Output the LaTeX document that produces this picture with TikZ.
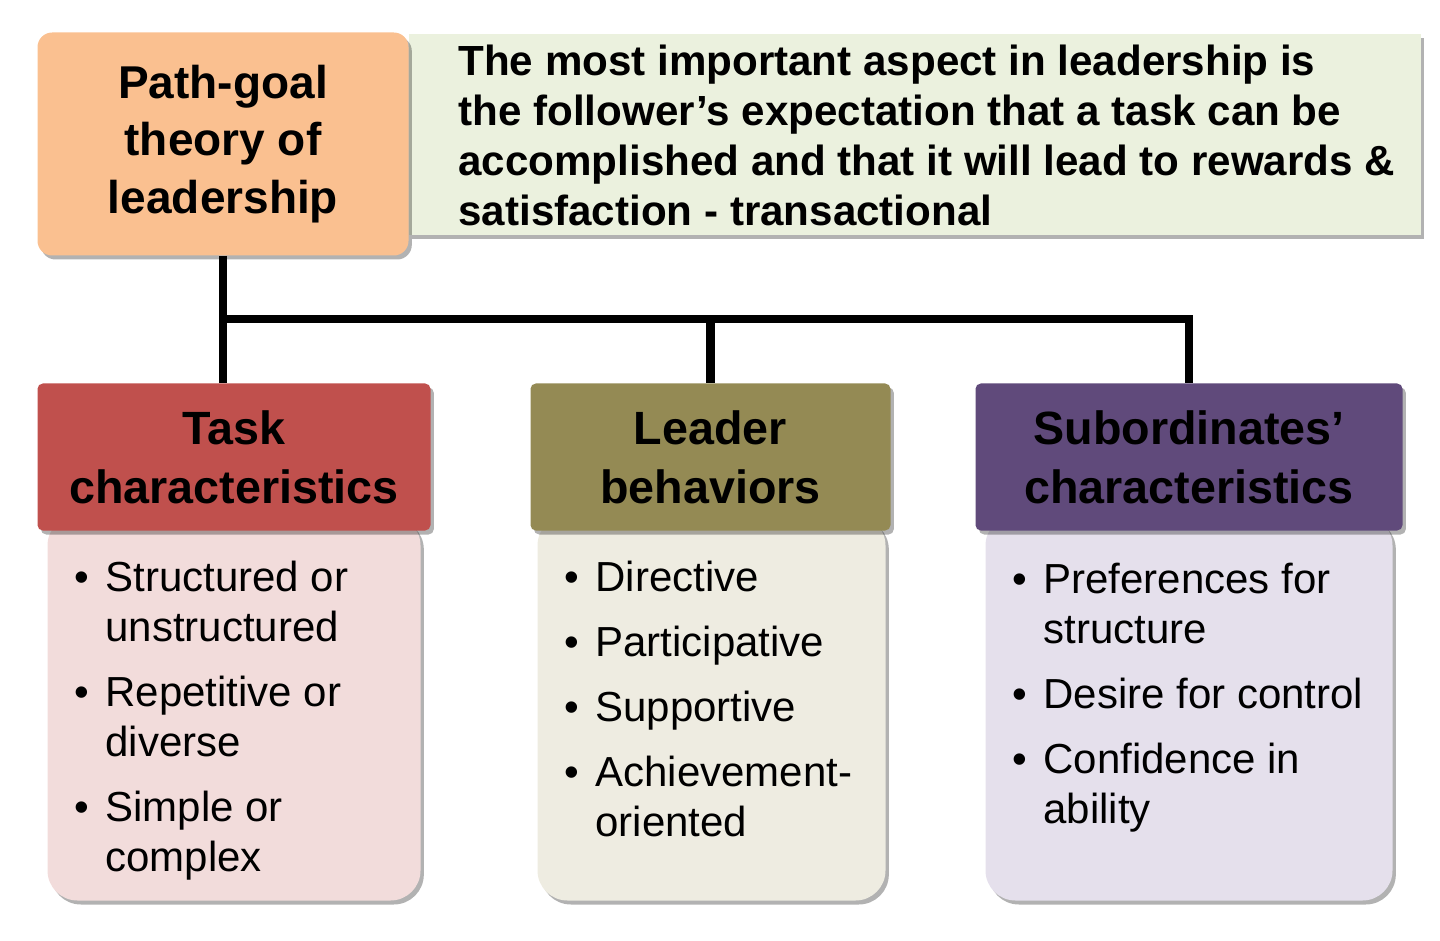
\documentclass[tikz,border=0pt]{standalone}
\usepackage{fontspec}
\setmainfont{Liberation Sans}
\usetikzlibrary{shadows}

\definecolor{pgorange}{HTML}{FAC090}
\definecolor{notegreen}{HTML}{EBF1DE}
\definecolor{taskhead}{HTML}{C0504D}
\definecolor{taskbody}{HTML}{F2DCDB}
\definecolor{leadhead}{HTML}{948A54}
\definecolor{leadbody}{HTML}{EEECE1}
\definecolor{subhead}{HTML}{604A7B}
\definecolor{subbody}{HTML}{E5E0EC}

\newcommand{\bl}{\makebox[23.25pt][l]{\textbullet}}
\newcommand{\ind}{\hspace*{23.25pt}}

\tikzset{every picture/.style={line width=0.75pt}}
\tikzset{
  boxshadow/.style={drop shadow={shadow xshift=2.5pt,shadow yshift=-3pt,opacity=0.3,fill=black}},
  headbox/.style={anchor=north west,rounded corners=4pt,minimum height=110.25pt,inner sep=0pt,align=center,font=\bfseries\fontsize{35}{44}\selectfont,boxshadow},
  bodybox/.style={anchor=north west,rounded corners=22.5pt,minimum height=288.75pt,inner sep=0pt,boxshadow},
  itemtext/.style={anchor=north west,inner sep=0pt,align=left,font=\fontsize{31.5}{37.5}\selectfont},
  branch/.style={line width=6.5pt},
}

\begin{document}
\begin{tikzpicture}[x=0.75pt,y=0.75pt,yscale=-1,xscale=1]
    \useasboundingbox (0,0) rectangle (1440,941);

    %Shape: Note [id:note]
    \node (note) [anchor=north west,fill=notegreen,minimum width=759pt,minimum height=150.75pt,inner sep=0pt,boxshadow] at (408,34) {};
    %Shape: Rounded Rectangle [id:pg]
    \node (pg) [anchor=north west,fill=pgorange,rounded corners=11pt,minimum width=278.25pt,minimum height=167.25pt,inner sep=0pt,align=center,font=\bfseries\fontsize{34.5}{43}\selectfont,boxshadow] at (37,32) {Path-goal\\theory of\\leadership};

    %Shape: Bodies
    \node (taskb) [bodybox,fill=taskbody,minimum width=279.75pt] at (47,515) {};
    \node (leadb) [bodybox,fill=leadbody,minimum width=261pt] at (537,515) {};
    \node (subb) [bodybox,fill=subbody,minimum width=305.25pt] at (985,515) {};

    %Shape: Headers
    \node (task) [headbox,fill=taskhead,minimum width=294.75pt] at (37,383) {Task\\characteristics};
    \node (lead) [headbox,fill=leadhead,minimum width=270pt] at (530,383) {Leader\\behaviors};
    \node (sub) [headbox,fill=subhead,minimum width=320.25pt] at (975,383) {Subordinates’\\characteristics};

    %Straight Lines
    \path (pg.south) ++(0,63) coordinate (hub);
    \draw [branch] (pg.south) -- (hub) -- (hub -| sub.north) -- (sub.north);
    \draw [branch] (hub -| lead.north) -- (lead.north);
    \draw [branch] (hub) -- (hub |- task.north);

    % Text Node
    \node (notetext) [anchor=north west,inner sep=0pt,align=left,font=\bfseries\fontsize{31.6}{37.5}\selectfont] at (458,44) {The most important aspect in leadership is\\the follower’s expectation that a task can be\\accomplished and that it will lead to rewards \&\\satisfaction - transactional};
    % Text Node
    \node (tasktext) [itemtext] at (74,561) {\bl Structured or\\ \ind unstructured\\[11.25pt] \bl Repetitive or\\ \ind diverse\\[11.25pt] \bl Simple or\\ \ind complex};
    % Text Node
    \node (leadtext) [itemtext] at (564,561) {\bl Directive\\[11.25pt] \bl Participative\\[11.25pt] \bl Supportive\\[11.25pt] \bl Achievement-\\ \ind oriented};
    % Text Node
    \node (subtext) [itemtext] at (1012,563) {\bl Preferences for\\ \ind structure\\[11.25pt] \bl Desire for control\\[11.25pt] \bl Confidence in\\ \ind ability};

\end{tikzpicture}
\end{document}
